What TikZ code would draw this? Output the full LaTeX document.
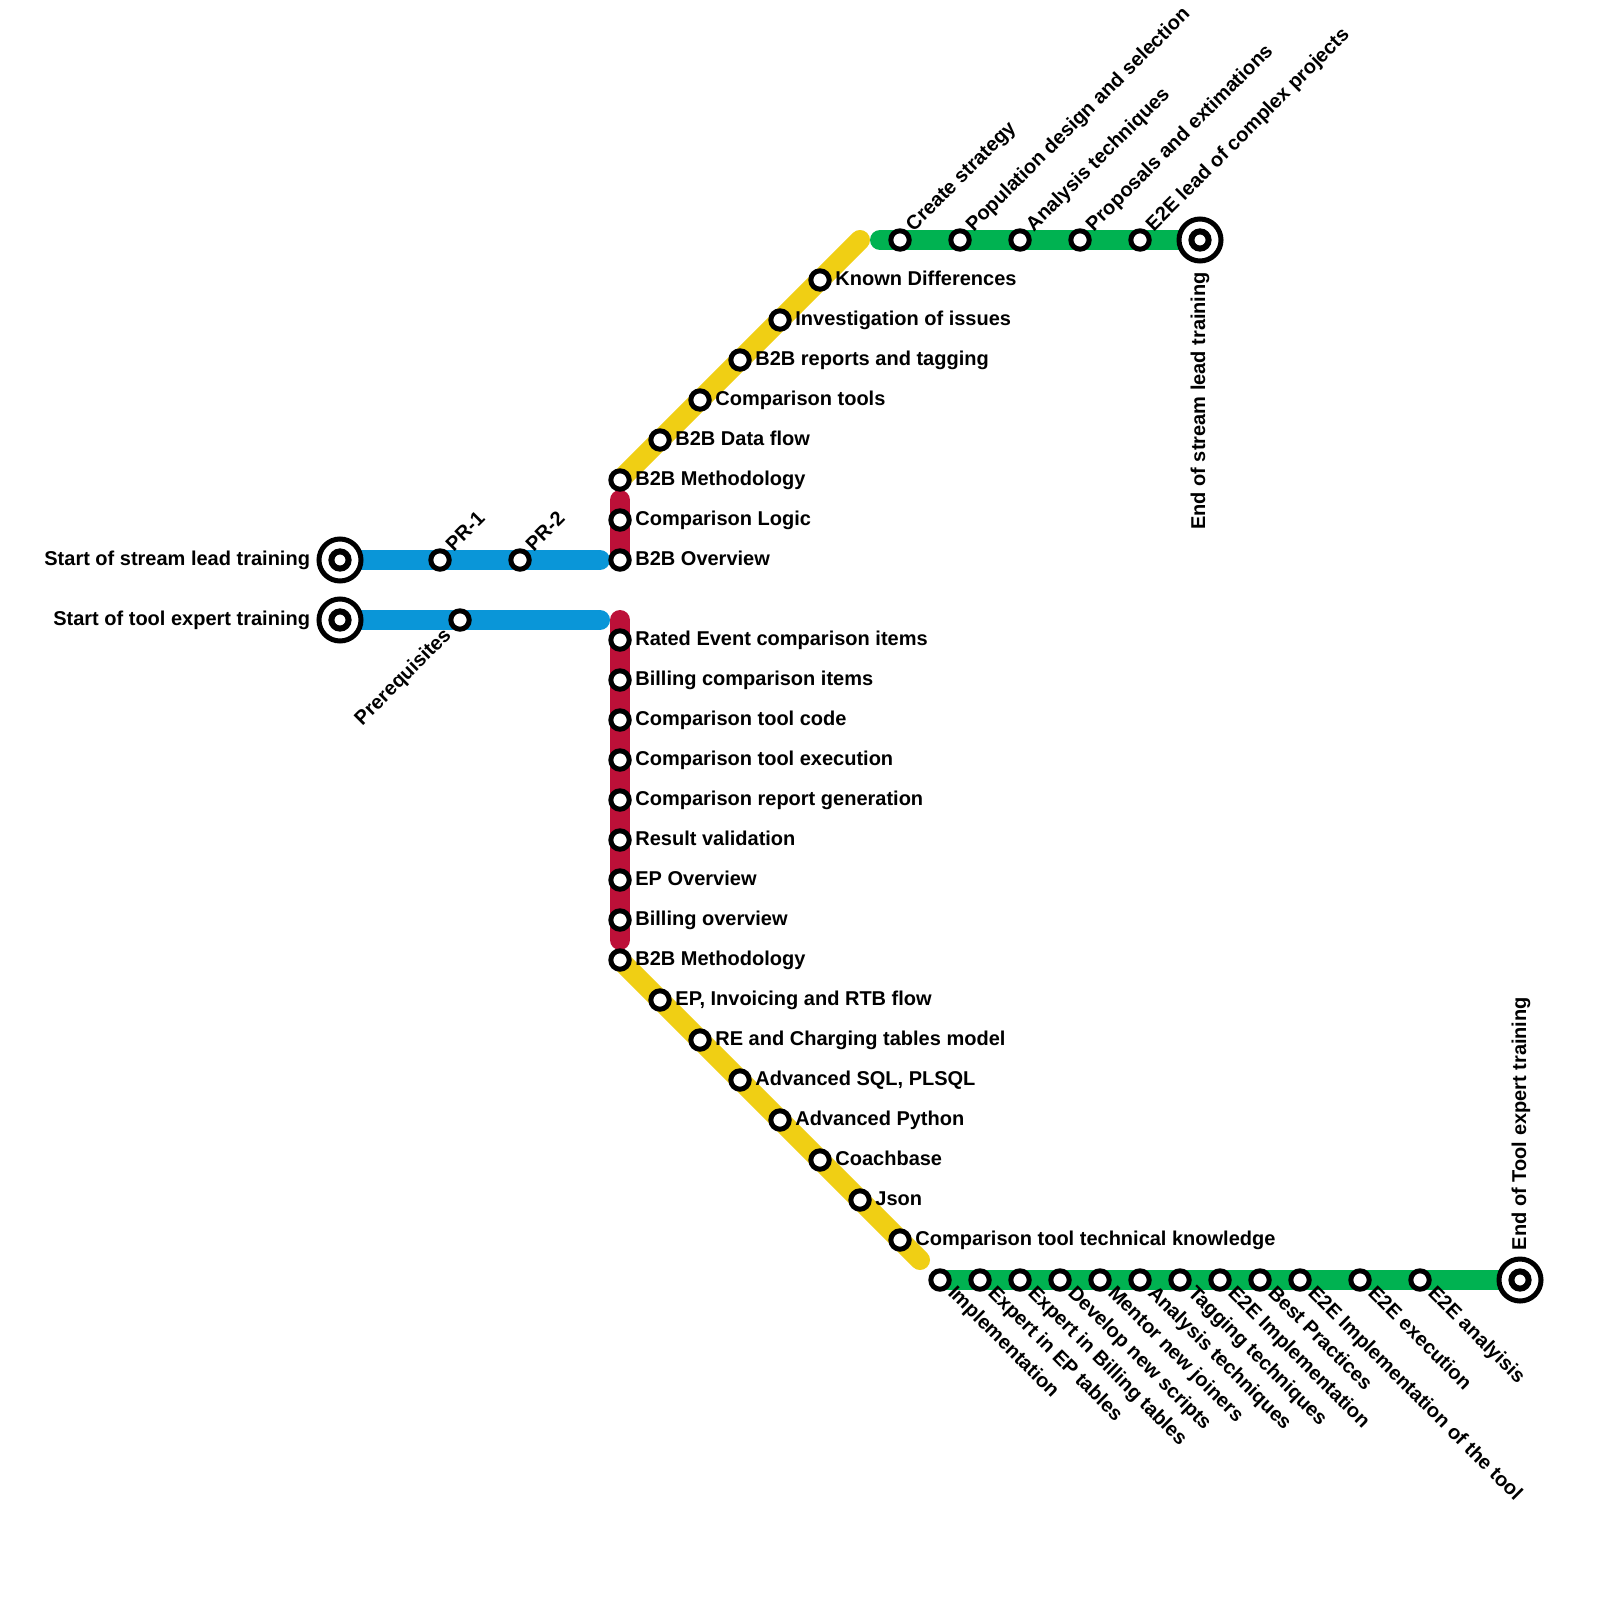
\documentclass[tikz,border=0pt]{standalone}
\usepackage{fontspec}
\setmainfont{Liberation Sans}
\usetikzlibrary{backgrounds}
\definecolor{lblue}{HTML}{0A96D8}
\definecolor{lred}{HTML}{BD1038}
\definecolor{lyellow}{HTML}{F0CF14}
\definecolor{lgreen}{HTML}{00B251}
\tikzset{
  x=0.5pt,y=-0.5pt,
  stn/.style={circle,draw=black,fill=white,line width=2.5pt,minimum size=9.2pt,inner sep=0pt,outer sep=0pt},
  termo/.style={circle,draw=black,fill=white,line width=2.5pt,minimum size=21pt,inner sep=0pt,outer sep=0pt},
  termi/.style={circle,draw=black,fill=white,line width=3pt,minimum size=8.6pt,inner sep=0pt,outer sep=0pt},
  txt/.style={inner sep=0pt,outer sep=0pt,font=\fontsize{10}{12}\selectfont\bfseries},
  lbr/.style={txt,xshift=7.7pt,yshift=-2.5pt,anchor=base west},
  lbu/.style={txt,xshift=6.9pt,yshift=3.9pt,rotate=45,anchor=base west},
  lbd/.style={txt,xshift=3.5pt,yshift=-7pt,rotate=-45,anchor=base west},
  lbp/.style={txt,xshift=-4pt,yshift=-8.2pt,rotate=45,anchor=base east},
  lbl/.style={txt,xshift=-15pt,yshift=-2.5pt,anchor=base east},
  metro/.style={line width=10pt,line cap=round,line join=round},
}
\newcommand{\stat}[5]{\node[stn] (#1) at (#2,#3) {}; \node[#4] (#1t) at (#2,#3) {#5};}
\begin{document}
\begin{tikzpicture}
\useasboundingbox (0,0) rectangle (1600,1600);
% terminals
\node[termo] (ta) at (340,560) {}; \node[termi] (tai) at (340,560) {};
\node[termo] (tb) at (340,620) {}; \node[termi] (tbi) at (340,620) {};
\node[termo] (tc) at (1200,240) {}; \node[termi] (tci) at (1200,240) {};
\node[termo] (td) at (1520,1280) {}; \node[termi] (tdi) at (1520,1280) {};
\node[lbl] (tat) at (340,560) {Start of stream lead training};
\node[lbl] (tbt) at (340,620) {Start of tool expert training};
\node[txt,xshift=2.5pt,yshift=-16pt,rotate=90,anchor=base east] (tct) at (1200,240) {End of stream lead training};
\node[txt,xshift=3pt,yshift=15pt,rotate=90,anchor=base west] (tdt) at (1520,1280) {End of Tool expert training};
% free ends
\coordinate (blueA) at (600,560);
\coordinate (blueB) at (600,620);
\coordinate (redAtop) at (620,500);
\coordinate (redBtop) at (620,620);
\coordinate (redBbot) at (620,940);
\coordinate (yelAend) at (860,240);
\coordinate (yelBend) at (920,1260);
\coordinate (grnAstart) at (880,240);
% blue
\stat{pra}{440}{560}{lbu}{PR-1}
\stat{prb}{520}{560}{lbu}{PR-2}
\stat{pre}{460}{620}{lbp}{Prerequisites}
% upper red and yellow
\stat{ra}{620}{560}{lbr}{B2B Overview}
\stat{rb}{620}{520}{lbr}{Comparison Logic}
\stat{ya}{620}{480}{lbr}{B2B Methodology}
\stat{yb}{660}{440}{lbr}{B2B Data flow}
\stat{yc}{700}{400}{lbr}{Comparison tools}
\stat{yd}{740}{360}{lbr}{B2B reports and tagging}
\stat{ye}{780}{320}{lbr}{Investigation of issues}
\stat{yf}{820}{280}{lbr}{Known Differences}
% upper green
\stat{ga}{900}{240}{lbu}{Create strategy}
\stat{gb}{960}{240}{lbu}{Population design and selection}
\stat{gc}{1020}{240}{lbu}{Analysis techniques}
\stat{gd}{1080}{240}{lbu}{Proposals and extimations}
\stat{ge}{1140}{240}{lbu}{E2E lead of complex projects}
% lower red
\stat{rc}{620}{640}{lbr}{Rated Event comparison items}
\stat{rd}{620}{680}{lbr}{Billing comparison items}
\stat{re}{620}{720}{lbr}{Comparison tool code}
\stat{rf}{620}{760}{lbr}{Comparison tool execution}
\stat{rg}{620}{800}{lbr}{Comparison report generation}
\stat{rh}{620}{840}{lbr}{Result validation}
\stat{ri}{620}{880}{lbr}{EP Overview}
\stat{rj}{620}{920}{lbr}{Billing overview}
% lower yellow
\stat{za}{620}{960}{lbr}{B2B Methodology}
\stat{zb}{660}{1000}{lbr}{EP, Invoicing and RTB flow}
\stat{zc}{700}{1040}{lbr}{RE and Charging tables model}
\stat{zd}{740}{1080}{lbr}{Advanced SQL, PLSQL}
\stat{ze}{780}{1120}{lbr}{Advanced Python}
\stat{zf}{820}{1160}{lbr}{Coachbase}
\stat{zg}{860}{1200}{lbr}{Json}
\stat{zh}{900}{1240}{lbr}{Comparison tool technical knowledge}
% lower green
\stat{ha}{940}{1280}{lbd}{Implementation}
\stat{hb}{980}{1280}{lbd}{Expert in EP tables}
\stat{hc}{1020}{1280}{lbd}{Expert in Billing tables}
\stat{hd}{1060}{1280}{lbd}{Develop new scripts}
\stat{he}{1100}{1280}{lbd}{Mentor new joiners}
\stat{hf}{1140}{1280}{lbd}{Analysis techniques}
\stat{hg}{1180}{1280}{lbd}{Tagging techniques}
\stat{hh}{1220}{1280}{lbd}{E2E Implementation}
\stat{hi}{1260}{1280}{lbd}{Best Practices}
\stat{hj}{1300}{1280}{lbd}{E2E Implementation of the tool}
\stat{hk}{1360}{1280}{lbd}{E2E execution}
\stat{hl}{1420}{1280}{lbd}{E2E analyisis}
\begin{pgfonlayer}{background}
\fill[white] (0,0) rectangle (1600,1600);
\draw[metro,lblue] (ta.center) -- (pra.center) -- (prb.center) -- (blueA);
\draw[metro,lblue] (tb.center) -- (pre.center) -- (blueB);
\draw[metro,lred] (redAtop) -- (rb.center) -- (ra.center);
\draw[metro,lred] (redBtop) -- (rc.center) -- (rd.center) -- (re.center) -- (rf.center) -- (rg.center) -- (rh.center) -- (ri.center) -- (rj.center) -- (redBbot);
\draw[metro,lyellow] (ya.center) -- (yb.center) -- (yc.center) -- (yd.center) -- (ye.center) -- (yf.center) -- (yelAend);
\draw[metro,lyellow] (za.center) -- (zb.center) -- (zc.center) -- (zd.center) -- (ze.center) -- (zf.center) -- (zg.center) -- (zh.center) -- (yelBend);
\draw[metro,lgreen] (grnAstart) -- (ga.center) -- (gb.center) -- (gc.center) -- (gd.center) -- (ge.center) -- (tc.center);
\draw[metro,lgreen] (ha.center) -- (hb.center) -- (hc.center) -- (hd.center) -- (he.center) -- (hf.center) -- (hg.center) -- (hh.center) -- (hi.center) -- (hj.center) -- (hk.center) -- (hl.center) -- (td.center);
\end{pgfonlayer}
\end{tikzpicture}
\end{document}
